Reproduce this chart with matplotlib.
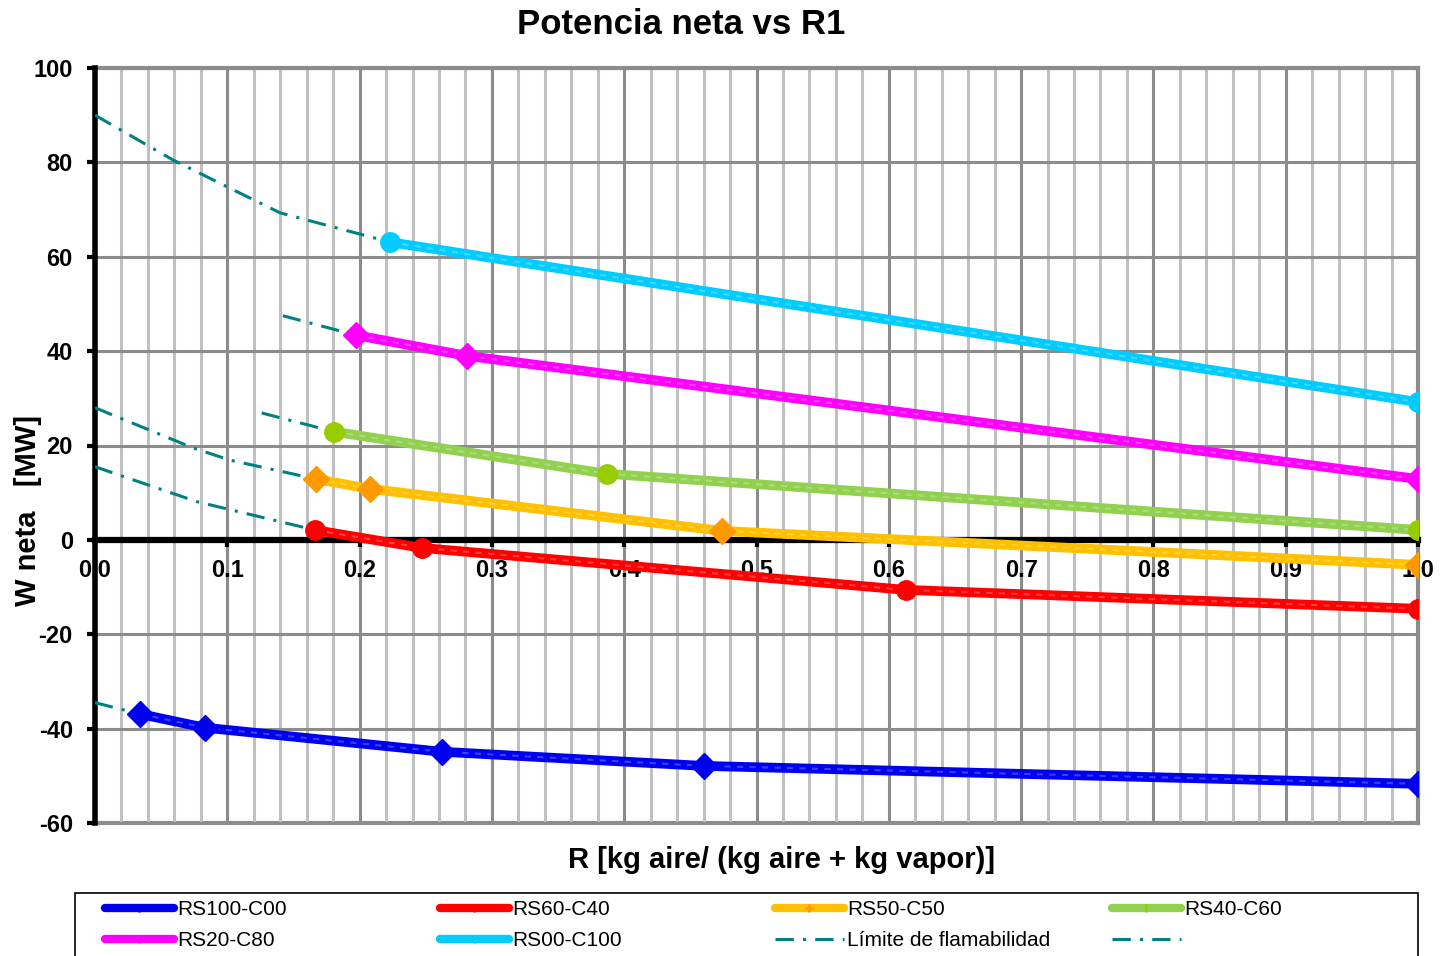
import matplotlib
matplotlib.use("Agg")
import matplotlib.pyplot as plt
from matplotlib.lines import Line2D
from matplotlib.patches import Rectangle
from matplotlib.ticker import MultipleLocator

plt.rcParams['font.family'] = ['Liberation Sans', 'DejaVu Sans']
plt.rcParams['axes.unicode_minus'] = False

# ---- data: R (x) and net power in MW (y) ----
rs100_x = [0.034, 0.083, 0.262, 0.460, 1.0]
rs100_y = [-36.9, -39.8, -44.9, -47.9, -51.7]

rs60_x = [0.166, 0.247, 0.613, 1.0]
rs60_y = [2.1, -1.7, -10.6, -14.6]

rs50_x = [0.167, 0.208, 0.474, 1.0]
rs50_y = [12.9, 10.8, 1.9, -5.3]

rs40_x = [0.181, 0.387, 1.0]
rs40_y = [22.9, 14.0, 2.1]

rs20_x = [0.197, 0.281, 1.0]
rs20_y = [43.4, 39.0, 12.9]

rs00_x = [0.223, 1.0]
rs00_y = [63.1, 29.2]

# flammability-limit extensions (one per mixture)
lim_rs00_x = [0.0, 0.059, 0.100, 0.140, 0.223]
lim_rs00_y = [90.0, 80.5, 74.8, 69.3, 63.1]
lim_rs20_x = [0.142, 0.197]
lim_rs20_y = [47.5, 43.4]
lim_rs40_x = [0.126, 0.181]
lim_rs40_y = [26.9, 22.9]
lim_rs50_x = [0.0, 0.074, 0.102, 0.167]
lim_rs50_y = [28.0, 19.5, 16.9, 12.9]
lim_rs60_x = [0.0, 0.077, 0.166]
lim_rs60_y = [15.5, 8.1, 2.1]
lim_rs100_x = [0.0, 0.034]
lim_rs100_y = [-34.5, -36.9]

x_ticks = [0.0, 0.1, 0.2, 0.3, 0.4, 0.5, 0.6, 0.7, 0.8, 0.9, 1.0]
x_tick_labels = ["0.0", "0.1", "0.2", "0.3", "0.4", "0.5", "0.6", "0.7", "0.8", "0.9", "1.0"]
y_ticks = [-60, -40, -20, 0, 20, 40, 60, 80, 100]

series = [
    ("RS100-C00", rs100_x, rs100_y, "#0000F0", "#0000F0", "D"),
    ("RS60-C40", rs60_x, rs60_y, "#FF0000", "#FF0000", "o"),
    ("RS50-C50", rs50_x, rs50_y, "#FFC000", "#FF9900", "D"),
    ("RS40-C60", rs40_x, rs40_y, "#92D050", "#99CC00", "o"),
    ("RS20-C80", rs20_x, rs20_y, "#FF00FF", "#FF00FF", "D"),
    ("RS00-C100", rs00_x, rs00_y, "#00CCFF", "#00CCFF", "o"),
]
limits = [
    (lim_rs00_x, lim_rs00_y), (lim_rs20_x, lim_rs20_y), (lim_rs40_x, lim_rs40_y),
    (lim_rs50_x, lim_rs50_y), (lim_rs60_x, lim_rs60_y), (lim_rs100_x, lim_rs100_y),
]
teal = "#008080"
dashdot = (0, (6, 3, 1, 3))

W, H = 1442, 956
fig = plt.figure(figsize=(W / 100, H / 100), dpi=100)
ax = fig.add_axes([95 / W, 1 - 823 / H, (1418 - 95) / W, (823 - 68) / H])
ax.set_xlim(0, 1.0)
ax.set_ylim(-60, 100)

# grid
ax.xaxis.set_minor_locator(MultipleLocator(0.02))
ax.grid(which='minor', axis='x', color='#c0c0c0', lw=2.2, zorder=0)
ax.grid(which='major', axis='x', color='#8c8c8c', lw=2.2, zorder=0)
ax.grid(which='major', axis='y', color='#8c8c8c', lw=2.2, zorder=0)
ax.axhline(-60, color='#8c8c8c', lw=3, zorder=0, clip_on=False)
ax.axhline(100, color='#8c8c8c', lw=3, zorder=0, clip_on=False)
ax.axvline(1.0, color='#8c8c8c', lw=3, zorder=0, clip_on=False)

# spines
for s in ['top', 'right']:
    ax.spines[s].set_visible(False)
ax.spines['bottom'].set_position(('data', 0))
ax.spines['bottom'].set_linewidth(4.5)
ax.spines['bottom'].set_zorder(2)
ax.spines['left'].set_linewidth(4)

ax.set_xticks(x_ticks)
ax.set_xticklabels(x_tick_labels)
ax.set_yticks(y_ticks)
ax.tick_params(axis='x', which='major', direction='out', length=5, width=3, pad=9,
               labelsize=17)
ax.tick_params(axis='x', which='minor', length=0)
ax.tick_params(axis='y', direction='out', length=6, width=3, pad=10, labelsize=17)
for lab in ax.get_xticklabels() + ax.get_yticklabels():
    lab.set_fontweight('bold')

# flammability limit lines
for lx, ly in limits:
    ax.plot(lx, ly, color=teal, lw=2.2, ls=dashdot, zorder=3)

# series
for name, xs, ys, lc, mc, mk in series:
    ax.plot(xs, ys, color=lc, lw=7, solid_capstyle='round', zorder=4)
    ax.plot(xs, ys, color='white', alpha=0.25, lw=1.5, ls=(0, (3, 3)), zorder=5)
    ax.plot(xs, ys, ls='none', marker=mk, ms=14 if mk == 'o' else 13,
            mfc=mc, mec=mc, zorder=6)

fig.text(681 / W, 1 - 24 / H, "Potencia neta vs R1", fontsize=25, fontweight='bold',
         ha='center', va='center')
fig.text(782 / W, 1 - 860 / H, "R [kg aire/ (kg aire + kg vapor)]", fontsize=21,
         fontweight='bold', ha='center', va='center')
fig.text(28 / W, 1 - 510 / H, "W neta   [MW]", fontsize=21, fontweight='bold',
         ha='center', va='center', rotation=90)

# legend: frame plus four evenly spaced columns
fig.patches.append(Rectangle((75 / W, -0.05), (1418 - 75) / W, 0.05 + (956 - 893) / H,
                             transform=fig.transFigure, fill=False,
                             edgecolor='black', lw=1.2, clip_on=False))
h = {}
for name, xs, ys, lc, mc, mk in series:
    h[name] = Line2D([], [], color=lc, lw=6, marker='|' if mk == 'o' else '+',
                     ms=6, mec=mc, mew=2, solid_capstyle='round')
h_lim = Line2D([], [], color=teal, lw=2.2, ls=dashdot)
h_blank = Line2D([], [], color=teal, lw=2.2, ls=dashdot)
columns = [
    ([h["RS100-C00"], h["RS20-C80"]], ["RS100-C00", "RS20-C80"]),
    ([h["RS60-C40"], h["RS00-C100"]], ["RS60-C40", "RS00-C100"]),
    ([h["RS50-C50"], h_lim], ["RS50-C50", "Límite de flamabilidad"]),
    ([h["RS40-C60"], h_blank], ["RS40-C60", ""]),
]
col_x = [105, 440, 775, 1112]
for (hs, ls_), cx in zip(columns, col_x):
    leg = fig.legend(hs, ls_, loc='upper left',
                     bbox_to_anchor=(cx / W, 1 - 900 / H), fontsize=15,
                     handlelength=3.3, handletextpad=0.15, labelspacing=0.6,
                     borderpad=0.0, borderaxespad=0.0, frameon=False)

fig.savefig("out.png", dpi=100)
